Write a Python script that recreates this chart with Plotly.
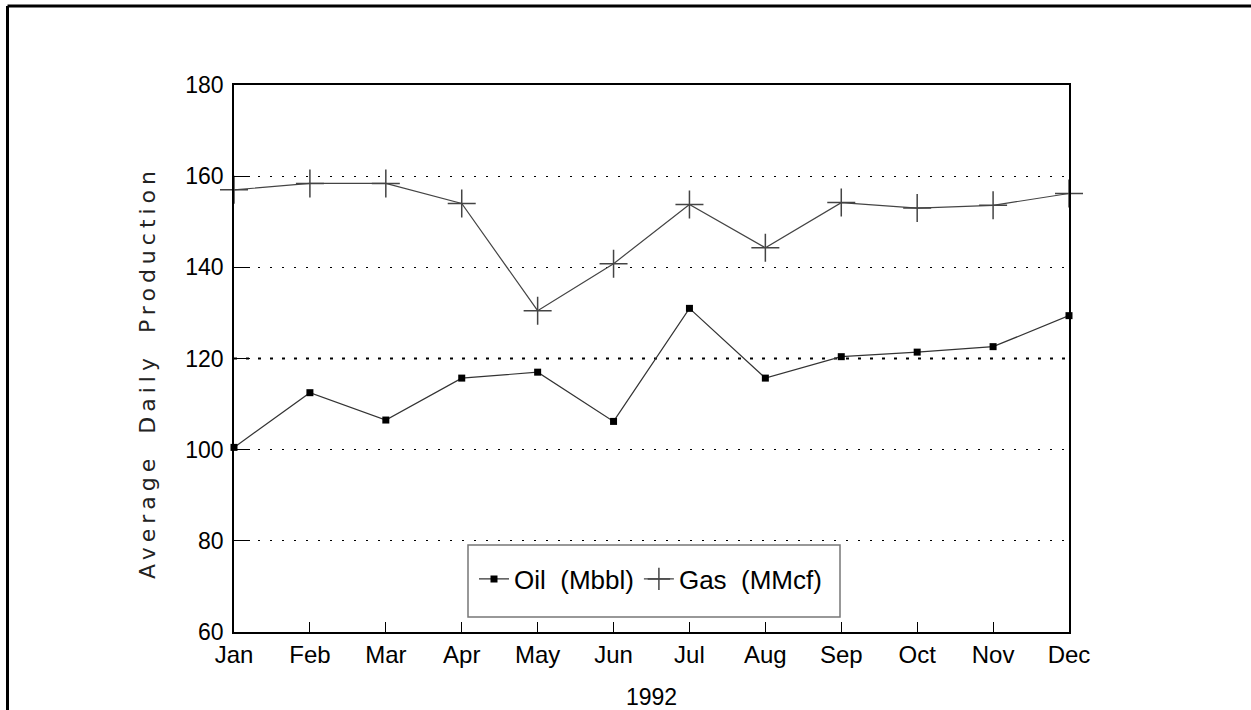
import plotly.graph_objects as go

# data
months = ["Jan", "Feb", "Mar", "Apr", "May", "Jun",
          "Jul", "Aug", "Sep", "Oct", "Nov", "Dec"]
oil = [100.5, 112.5, 106.5, 115.7, 117.0, 106.2,
       131.0, 115.7, 120.4, 121.4, 122.6, 129.4]
gas = [157.0, 158.4, 158.4, 154.0, 130.5, 140.8,
       153.8, 144.3, 154.2, 153.0, 153.6, 156.2]
y_ticks = [60, 80, 100, 120, 140, 160, 180]

W, H = 1251, 710
L, R, T, B = 234, 1069, 85, 632      # plot area in px


def px_x(p):
    return (p - L) / (R - L)


def px_y(p):
    return (B - p) / (B - T)


fig = go.Figure()

fig.add_trace(go.Scatter(
    x=months, y=oil, name="Oil  (Mbbl)", mode="lines+markers",
    line=dict(color="#333333", width=1.2),
    marker=dict(symbol="square", size=7, color="black"),
    cliponaxis=False,
))
fig.add_trace(go.Scatter(
    x=months, y=gas, name="Gas  (MMcf)", mode="lines+markers",
    line=dict(color="#444444", width=1.2),
    marker=dict(symbol="cross-thin-open", size=20,
                line=dict(color="black", width=1.5)),
    cliponaxis=False,
))

# heavier dotted line at 120
fig.add_shape(type="line", xref="paper", yref="y", x0=0, x1=1, y0=120, y1=120,
              line=dict(color="black", width=2, dash="3px,9px"), layer="below")

# legend box
fig.add_shape(type="rect", xref="paper", yref="paper",
              x0=px_x(468), x1=px_x(840), y0=px_y(617), y1=px_y(545),
              line=dict(color="#777777", width=1.5), fillcolor="white")

# page frame (top and left edge only)
fig.add_shape(type="line", xref="paper", yref="paper",
              x0=px_x(7.5), x1=px_x(1260), y0=px_y(6), y1=px_y(6),
              line=dict(color="black", width=3))
fig.add_shape(type="line", xref="paper", yref="paper",
              x0=px_x(7.5), x1=px_x(7.5), y0=px_y(6), y1=px_y(720),
              line=dict(color="black", width=3))

fig.update_xaxes(
    range=[0, 11], automargin=False,
    showline=True, linecolor="black", linewidth=1.5, mirror=True,
    ticks="inside", ticklen=10, tickwidth=1, tickcolor="black",
    showgrid=False, zeroline=False, ticklabelstandoff=0,
    tickfont=dict(family="Liberation Sans, Arial", size=24, color="black"),
    title=dict(text="1992", standoff=23,
               font=dict(family="Liberation Sans, Arial", size=23, color="black")),
)
fig.update_yaxes(
    range=[60, 180], tickvals=y_ticks, automargin=False,
    showline=True, linecolor="black", linewidth=1.5, mirror=True,
    ticks="inside", ticklen=16, tickwidth=1, tickcolor="black",
    showgrid=True, gridcolor="black", gridwidth=1, griddash="2px,10px",
    zeroline=False, ticklabelstandoff=4,
    tickfont=dict(family="Liberation Sans, Arial", size=23, color="black"),
    title=dict(text="Average Daily Production", standoff=24,
               font=dict(family="DejaVu Sans", size=22, color="#222222")),
)

fig.update_layout(
    width=W, height=H,
    margin=dict(l=L, r=W - R, t=T, b=H - B),
    paper_bgcolor="white", plot_bgcolor="white",
    showlegend=True,
    legend=dict(
        orientation="h", x=px_x(474), xanchor="left",
        y=px_y(579), yanchor="middle",
        bgcolor="rgba(0,0,0,0)", borderwidth=0,
        font=dict(family="Liberation Sans, Arial", size=26, color="black"),
        itemwidth=30, tracegroupgap=0,
    ),
)

# no page margin, and the wide letter spacing of the y title
js = (
    "document.body.style.margin='0';"
    "document.querySelectorAll('.ytitle').forEach(function(e){"
    "e.style.letterSpacing='5px';e.style.wordSpacing='8px';"
    "e.setAttribute('dx','-14');});"
)
fig.write_html("out.html", post_script=js,
               config={"displayModeBar": False})
